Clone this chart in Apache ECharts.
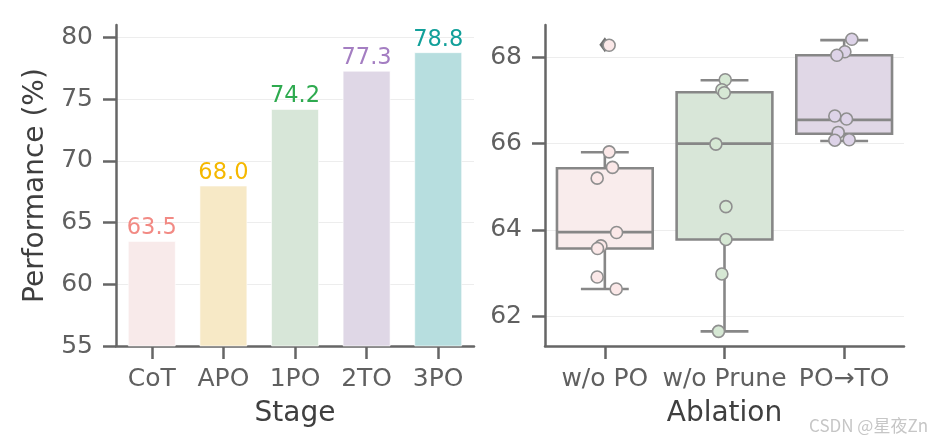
<!DOCTYPE html>
<html>
<head>
<meta charset="utf-8">
<script src="https://cdn.jsdelivr.net/npm/echarts@6/dist/echarts.min.js"></script>
<style>
html,body{margin:0;padding:0;background:#fff;}
#chart{width:934px;height:444px;}
</style>
</head>
<body>
<div id="chart"></div>
<script>
// ---------- data ----------
const stages = ['CoT', 'APO', '1PO', '2TO', '3PO'];
const performance = [63.5, 68.0, 74.2, 77.3, 78.8];
const stageTicks = [55, 60, 65, 70, 75, 80];

const ablations = ['w/o PO', 'w/o Prune', 'PO\u2192TO'];
// five-number summaries: [low whisker, Q1, median, Q3, high whisker]
const boxWoPO = [62.63, 63.57, 63.95, 65.43, 65.80];
const boxWoPrune = [61.65, 63.78, 66.00, 67.19, 67.47];
const boxPOTO = [66.06, 66.23, 66.55, 68.05, 68.40];
// individual runs (strip points) and their horizontal jitter (in category units)
const pointsWoPO = [68.28, 65.81, 65.45, 65.20, 63.94, 63.63, 63.57, 62.91, 62.63];
const jitterWoPO = [0.036, 0.036, 0.064, -0.064, 0.098, -0.033, -0.061, -0.064, 0.095];
const pointsWoPrune = [67.48, 67.25, 67.18, 65.99, 64.54, 63.78, 62.98, 61.65];
const jitterWoPrune = [0.006, -0.022, -0.002, -0.072, 0.012, 0.012, -0.022, -0.05];
const pointsPOTO = [68.42, 68.13, 68.05, 66.64, 66.57, 66.26, 66.08, 66.09];
const jitterPOTO = [0.064, 0.006, -0.061, -0.078, 0.02, -0.05, -0.078, 0.042];
const outlierWoPO = [68.29];
const ablationTicks = [62, 64, 66, 68];

// ---------- styles ----------
const barFills = ['#F8EAEA', '#F7E9C6', '#D7E6D8', '#DFD7E6', '#B7DEDF'];
const labelColors = ['#F28A84', '#F5B800', '#2EAA4F', '#A47EC2', '#12A09A'];
const boxFills = ['#F9ECEC', '#D8E6D8', '#E0D7E6'];
const pointFills = ['#FBE8E8', '#D6E8D4', '#DDD3E8'];
const axisColor = '#666666';
const tickLabelColor = '#606060';
const nameColor = '#3f3f3f';
const FONT = 'DejaVu Sans';
const boxLine = '#878787';

const chart = echarts.init(document.getElementById('chart'), null, {renderer: 'canvas'});

function axisCommonY(ticks, min, max, name, nameGap) {
  return {
    type: 'value', min: min, max: max,
    name: name, nameLocation: 'middle', nameGap: nameGap,
    nameTextStyle: {fontFamily: FONT, fontSize: 28, color: nameColor},
    axisLine: {show: true, onZero: false, lineStyle: {color: axisColor, width: 2.5}},
    axisTick: {show: true, length: 13, lineStyle: {color: axisColor, width: 2.5}, customValues: ticks},
    axisLabel: {fontFamily: FONT, fontSize: 25, color: tickLabelColor, margin: 23, customValues: ticks},
    splitLine: {show: true, lineStyle: {color: '#ededed', width: 1}}
  };
}
function axisCommonX(cats, name) {
  return {
    type: 'category', data: cats,
    name: name, nameLocation: 'middle', nameGap: 54,
    nameTextStyle: {fontFamily: FONT, fontSize: 28, color: nameColor},
    axisLine: {show: true, onZero: false, lineStyle: {color: axisColor, width: 2.5}},
    axisTick: {show: true, alignWithLabel: true, length: 13, lineStyle: {color: axisColor, width: 2.5}},
    axisLabel: {fontFamily: FONT, fontSize: 25, color: tickLabelColor, margin: 21, interval: 0},
    splitLine: {show: false}
  };
}

const boxData = [boxWoPO, boxWoPrune, boxPOTO].map((b, i) => [i].concat(b));

function pointSeries(vals, jit, idx) {
  return {
    type: 'scatter', xAxisIndex: 2, yAxisIndex: 1, z: 5,
    symbol: 'circle', symbolSize: 12,
    itemStyle: {color: pointFills[idx], borderColor: '#8f8f8f', borderWidth: 1.6, opacity: 1},
    data: vals.map((v, k) => [idx + jit[k], v]),
    silent: true
  };
}

const option = {
  animation: false,
  backgroundColor: '#ffffff',
  grid: [
    {left: 116, top: 25, width: 358, height: 321},
    {left: 545, top: 25, width: 359, height: 321}
  ],
  xAxis: [
    Object.assign(axisCommonX(stages, 'Stage'), {gridIndex: 0}),
    Object.assign(axisCommonX(ablations, 'Ablation'), {gridIndex: 1}),
    {type: 'value', gridIndex: 1, min: -0.5, max: 2.5, show: false}
  ],
  yAxis: [
    Object.assign(axisCommonY(stageTicks, 55, 81, 'Performance (%)', 66), {gridIndex: 0}),
    Object.assign(axisCommonY(ablationTicks, 61.31, 68.75, '', 40), {gridIndex: 1})
  ],
  series: [
    {
      type: 'bar', xAxisIndex: 0, yAxisIndex: 0,
      barWidth: '67%',
      data: performance.map((v, i) => ({
        value: v,
        itemStyle: {color: barFills[i], borderColor: 'rgba(255,255,255,0.6)', borderWidth: 1},
        label: {color: labelColors[i]}
      })),
      label: {
        show: true, position: 'top', distance: 1,
        fontFamily: FONT, fontSize: 22.5,
        formatter: p => p.value.toFixed(1)
      }
    },
    {
      type: 'custom', xAxisIndex: 1, yAxisIndex: 1, z: 3,
      data: boxData,
      renderItem: function (params, api) {
        const c = api.value(0);
        const band = api.size([1, 0])[0];
        const half = band * 0.4;
        const cap = half * 0.5;
        const pLow = api.coord([c, api.value(1)]);
        const pQ1 = api.coord([c, api.value(2)]);
        const pMed = api.coord([c, api.value(3)]);
        const pQ3 = api.coord([c, api.value(4)]);
        const pHigh = api.coord([c, api.value(5)]);
        const x = pQ1[0];
        const ls = {stroke: boxLine, lineWidth: 2.6};
        return {
          type: 'group',
          children: [
            {type: 'line', shape: {x1: x, y1: pQ1[1], x2: x, y2: pLow[1]}, style: ls},
            {type: 'line', shape: {x1: x, y1: pQ3[1], x2: x, y2: pHigh[1]}, style: ls},
            {type: 'line', shape: {x1: x - cap, y1: pLow[1], x2: x + cap, y2: pLow[1]}, style: ls},
            {type: 'line', shape: {x1: x - cap, y1: pHigh[1], x2: x + cap, y2: pHigh[1]}, style: ls},
            {type: 'rect', shape: {x: x - half, y: pQ3[1], width: half * 2, height: pQ1[1] - pQ3[1]},
              style: {fill: boxFills[c], stroke: boxLine, lineWidth: 2.6}},
            {type: 'line', shape: {x1: x - half, y1: pMed[1], x2: x + half, y2: pMed[1]}, style: ls}
          ]
        };
      }
    },
    {
      type: 'scatter', xAxisIndex: 2, yAxisIndex: 1, z: 4,
      symbol: 'diamond', symbolSize: [11, 15],
      itemStyle: {color: '#707070', opacity: 1},
      data: outlierWoPO.map(v => [0, v]),
      silent: true
    },
    pointSeries(pointsWoPO, jitterWoPO, 0),
    pointSeries(pointsWoPrune, jitterWoPrune, 1),
    pointSeries(pointsPOTO, jitterPOTO, 2)
  ],
  graphic: [
    {type: 'text', left: 809, top: 417,
      style: {text: 'CSDN @星夜Zn', fontFamily: 'Noto Sans CJK SC', fontSize: 17, fill: '#c6c6c6'}}
  ]
};
chart.setOption(option);
</script>
</body>
</html>
